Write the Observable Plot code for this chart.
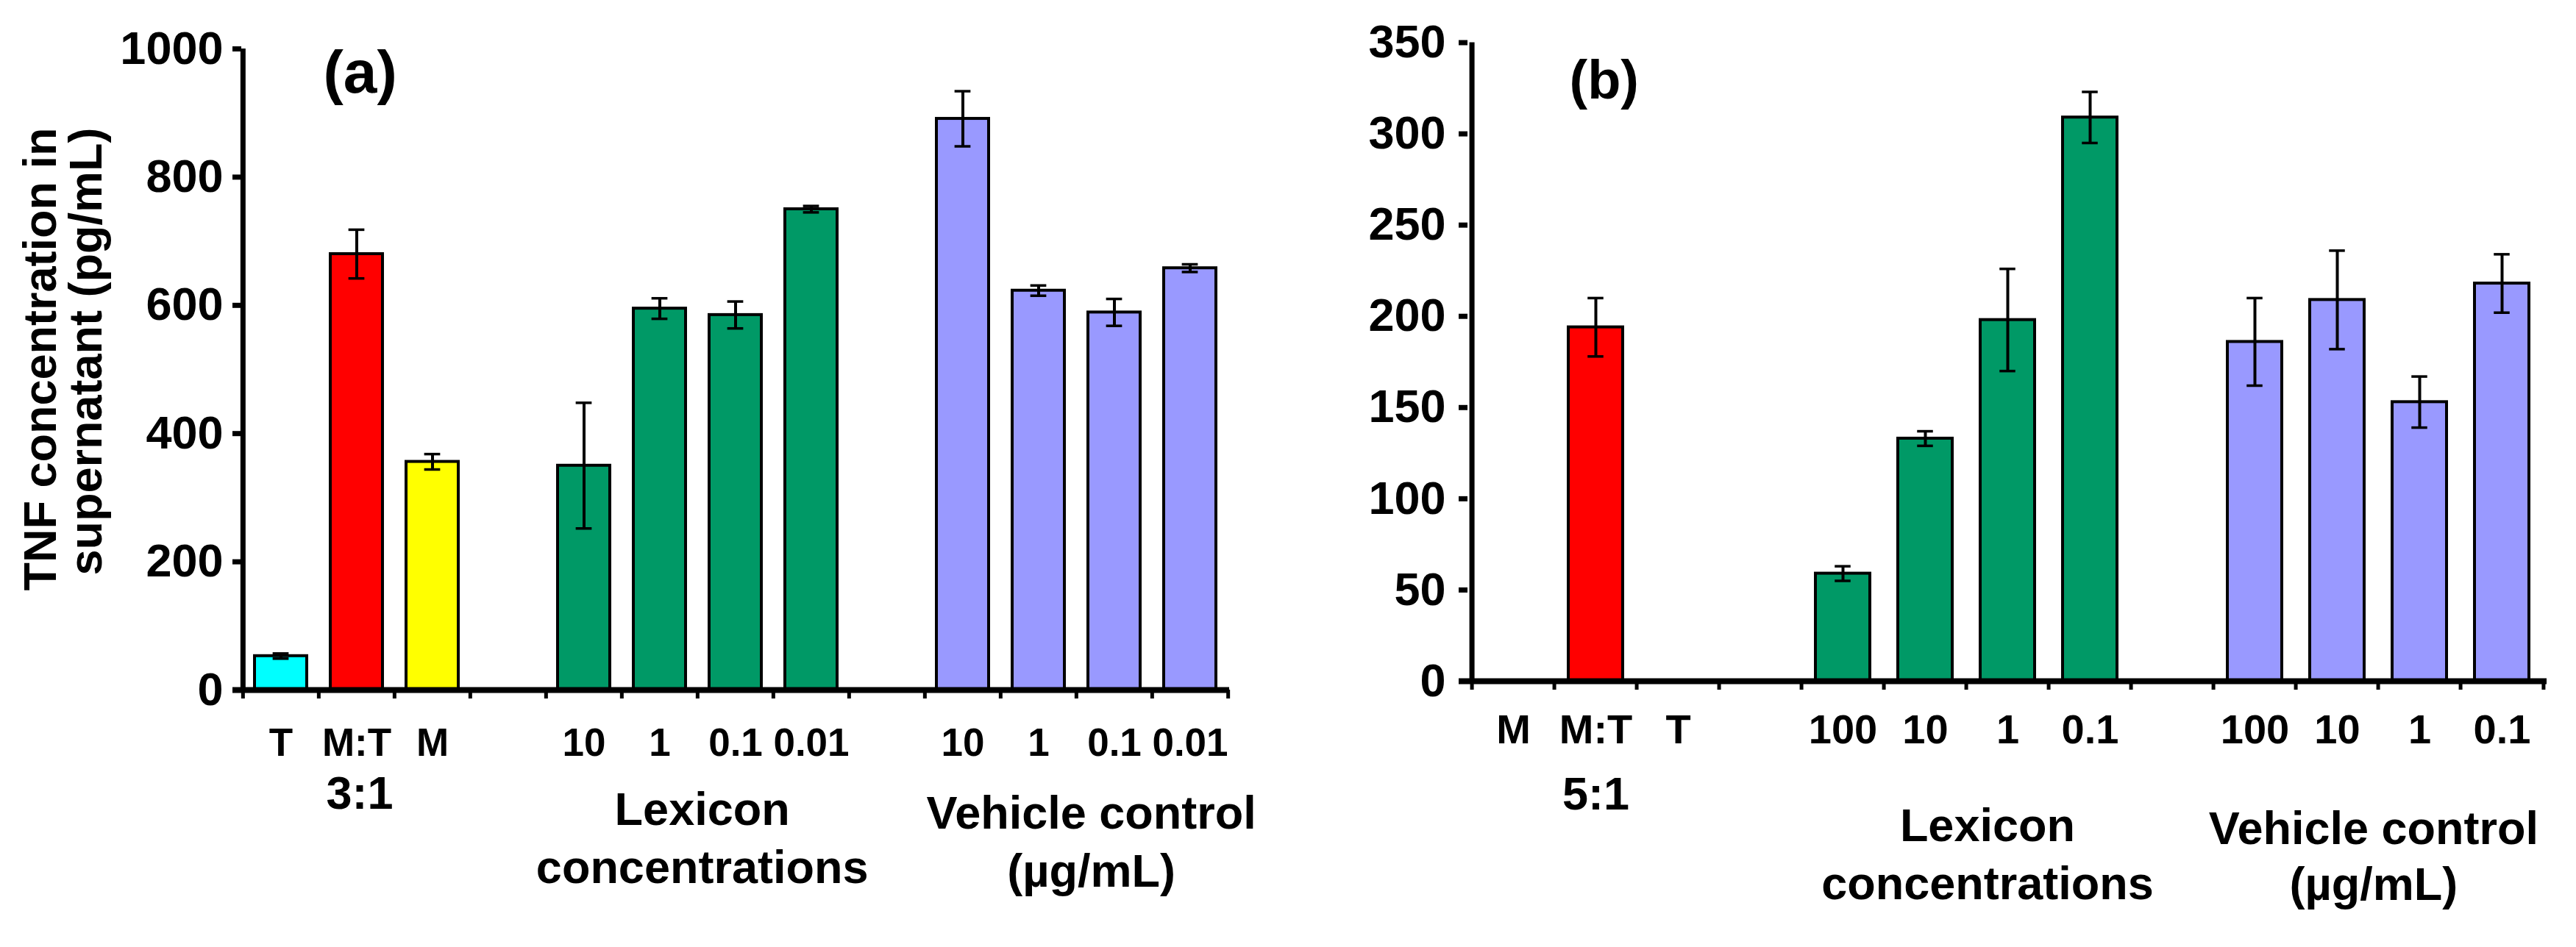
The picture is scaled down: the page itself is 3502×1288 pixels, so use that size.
<!DOCTYPE html>
<html>
<head>
<meta charset="utf-8">
<script src="https://cdn.jsdelivr.net/npm/d3@7"></script>
<script src="https://cdn.jsdelivr.net/npm/@observablehq/plot@0.6"></script>
<style>
  html, body { margin: 0; padding: 0; background: #fff; overflow: hidden; }
  #chart { position: relative; width: 3502px; height: 1288px; background: #fff; }
  #chart > svg { position: absolute; top: 0; }
</style>
</head>
<body>
<div id="chart"></div>
<script>
// ---------- Data: panel (a) ----------
const aCategories = ["T", "M:T", "M", "_gap1", "Lexicon 10", "Lexicon 1", "Lexicon 0.1", "Lexicon 0.01", "_gap2", "Vehicle 10", "Vehicle 1", "Vehicle 0.1", "Vehicle 0.01"];
const aTickLabels = ["T", "M:T", "M", "", "10", "1", "0.1", "0.01", "", "10", "1", "0.1", "0.01"];
const aGroups     = ["T", "M:T", "M", null, "Lexicon", "Lexicon", "Lexicon", "Lexicon", null, "Vehicle", "Vehicle", "Vehicle", "Vehicle"];
const aValues     = [53, 680, 356, null, 350, 595, 585, 750, null, 891, 623, 589, 658];
const aErrors     = [4, 38, 12, null, 98, 16, 21, 5, null, 43, 8, 21, 6];
const aYTicks     = [0, 200, 400, 600, 800, 1000];

// ---------- Data: panel (b) ----------
const bCategories = ["M", "M:T", "T", "_gap1", "Lexicon 100", "Lexicon 10", "Lexicon 1", "Lexicon 0.1", "_gap2", "Vehicle 100", "Vehicle 10", "Vehicle 1", "Vehicle 0.1"];
const bTickLabels = ["M", "M:T", "T", "", "100", "10", "1", "0.1", "", "100", "10", "1", "0.1"];
const bGroups     = ["M", "M:T", "T", null, "Lexicon", "Lexicon", "Lexicon", "Lexicon", null, "Vehicle", "Vehicle", "Vehicle", "Vehicle"];
const bValues     = [0, 194, 0, null, 59, 133, 198, 309, null, 186, 209, 153, 218];
const bErrors     = [0, 16, 0, null, 4, 4, 28, 14, null, 24, 27, 14, 16];
const bYTicks     = [0, 50, 100, 150, 200, 250, 300, 350];

// ---------- Group colours ----------
const groupNames  = ["T", "M:T", "M", "Lexicon", "Vehicle"];
const groupColors = ["#00ffff", "#ff0000", "#ffff00", "#009966", "#9999ff"];

// ---------- Text ----------
const yTitle = "TNF concentration in\nsupernatant (pg/mL)";
const ratioA = "3:1", ratioB = "5:1";
const lexiconLabel = "Lexicon\nconcentrations";
const vehicleLabel = "Vehicle control\n(\u00b5g/mL)";

const FONT = '"Liberation Sans", Arial, Helvetica, sans-serif';

function rows(cats, groups, vals, errs) {
  return cats.map((c, i) => ({cat: c, group: groups[i], value: vals[i], err: errs[i]}))
             .filter(d => d.value != null);
}

function makePanel(o) {
  const data = rows(o.categories, o.groups, o.values, o.errors);
  const bars = data.filter(d => d.value > 0);
  const innerW = o.width - o.marginLeft - o.marginRight;
  const step = innerW / o.categories.length;
  const bw = step * (1 - o.padding);
  const capInset = (bw - 22) / 2;
  const labels = o.categories.map((c, i) => ({cat: c, text: o.tickLabels[i]})).filter(d => d.text);
  const marks = [
    Plot.barY(data, {x: "cat", y: "value", fill: "group", stroke: "black", strokeWidth: 4}),
    Plot.ruleX(bars, {x: "cat", y1: d => d.value - d.err, y2: d => d.value + d.err, stroke: "black", strokeWidth: 4}),
    Plot.tickY(bars, {x: "cat", y: d => d.value + d.err, insetLeft: capInset, insetRight: capInset, stroke: "black", strokeWidth: 3.5}),
    Plot.tickY(bars, {x: "cat", y: d => d.value - d.err, insetLeft: capInset, insetRight: capInset, stroke: "black", strokeWidth: 3.5}),
    Plot.ruleY([0], {stroke: "black", strokeWidth: 8, insetLeft: -12}),
    Plot.ruleX([o.categories[0]], {y1: 0, y2: o.yMax, dx: -step / 2, stroke: "black", strokeWidth: 7}),
    Plot.axisY({ticks: o.yTicks, tickSize: 12, tickPadding: o.tickPadding, tickFormat: d => String(d), fontSize: 63, strokeWidth: 7, label: null}),
    Plot.axisX({ticks: o.categories, tickSize: 12, tickFormat: () => "", dx: -step / 2, strokeWidth: 5, label: null}),
    Plot.axisX({ticks: [o.categories[o.categories.length - 1]], tickSize: 12, tickFormat: () => "", dx: step / 2, strokeWidth: 5, label: null}),
    Plot.text(labels, {x: "cat", text: "text", frameAnchor: "bottom", dy: o.tickDy, lineAnchor: "bottom", fontSize: o.tickFont, fill: "black"}),
    Plot.text([o.ratio], {x: () => o.categories[1], text: d => d, frameAnchor: "bottom", dx: o.ratioDx, dy: o.ratioDy, lineAnchor: "bottom", fontSize: 63, fill: "black"}),
    Plot.text([lexiconLabel], {x: () => o.lexAnchor, text: d => d, frameAnchor: "bottom", dx: step / 2 + o.lexDx, dy: o.lexDy, lineAnchor: "bottom", lineHeight: 1.25, fontSize: 63, fill: "black"}),
    Plot.text([vehicleLabel], {x: () => o.vehAnchor, text: d => d, frameAnchor: "bottom", dx: step / 2 + o.vehDx, dy: o.vehDy, lineAnchor: "bottom", lineHeight: o.vehLH, fontSize: 63, fill: "black"}),
    Plot.text([o.tag], {frameAnchor: "top-left", text: d => d, dx: o.tagDx, dy: o.tagDy, lineAnchor: "bottom", fontSize: o.tagFont, fill: "black"})
  ];
  if (o.yTitle) {
    marks.push(Plot.text([o.yTitle], {frameAnchor: "top-left", text: d => d, dx: o.titleDx, dy: o.titleDy, rotate: -90, textAnchor: "end", lineAnchor: "top", lineHeight: 0.98, fontSize: 63, fill: "black"}));
  }
  return Plot.plot({
    width: o.width,
    height: 1288,
    marginLeft: o.marginLeft,
    marginRight: o.marginRight,
    marginTop: o.marginTop,
    marginBottom: o.marginBottom,
    style: {fontFamily: FONT, fontWeight: "bold", color: "black", background: "white", overflow: "visible"},
    x: {type: "band", domain: o.categories, paddingInner: o.padding, paddingOuter: o.padding / 2},
    y: {domain: [0, o.yMax]},
    color: {domain: groupNames, range: groupColors},
    marks
  });
}

const chart = document.getElementById("chart");

const left = makePanel({
  categories: aCategories, tickLabels: aTickLabels, groups: aGroups, values: aValues, errors: aErrors,
  yMax: 1000, yTicks: aYTicks, width: 1750,
  marginLeft: 328, marginRight: 79, marginTop: 66, marginBottom: 350,
  padding: 0.31, tickPadding: 13, tickDy: 89, tickFont: 53,
  ratio: ratioA, ratioDx: 4, ratioDy: 161,
  lexAnchor: "Lexicon 1", lexDx: 6, lexDy: 262,
  vehAnchor: "Vehicle 1", vehDx: 20, vehDy: 267, vehLH: 1.25,
  tag: "(a)", tagDx: 111, tagDy: 59, tagFont: 82,
  yTitle: yTitle, titleDx: -296, titleDy: 107
});
left.style.left = "0px";
chart.appendChild(left);

const right = makePanel({
  categories: bCategories, tickLabels: bTickLabels, groups: bGroups, values: bValues, errors: bErrors,
  yMax: 350, yTicks: bYTicks, width: 1752,
  marginLeft: 245, marginRight: 40, marginTop: 57.5, marginBottom: 362,
  padding: 0.34, tickPadding: 18, tickDy: 84, tickFont: 56,
  ratio: ratioB, ratioDx: 0, ratioDy: 174,
  lexAnchor: "Lexicon 10", lexDx: 28, lexDy: 296,
  vehAnchor: "Vehicle 10", vehDx: -7, vehDy: 297, vehLH: 1.2,
  tag: "(b)", tagDx: 138, tagDy: 75.5, tagFont: 74,
  yTitle: null
});
right.style.left = "1750px";
chart.appendChild(right);
</script>
</body>
</html>
